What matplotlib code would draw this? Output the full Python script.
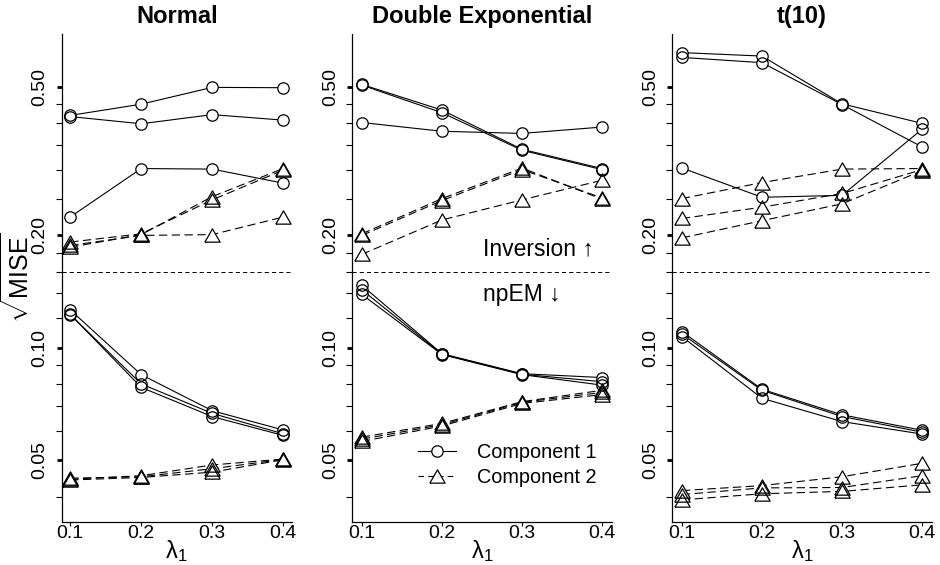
import matplotlib
matplotlib.use('Agg')
import matplotlib.pyplot as plt
from matplotlib.lines import Line2D
from matplotlib.ticker import FixedLocator, FixedFormatter, NullFormatter

plt.rcParams['font.family'] = ['Liberation Sans', 'DejaVu Sans']
plt.rcParams['mathtext.fontset'] = 'custom'
plt.rcParams['mathtext.rm'] = 'Liberation Sans'
plt.rcParams['mathtext.it'] = 'Liberation Sans:italic'
plt.rcParams['mathtext.bf'] = 'Liberation Sans:bold'
plt.rcParams['lines.scale_dashes'] = False

# ---------------- data ----------------
lam = [0.1, 0.2, 0.3, 0.4]
lam_ticks = ['0.1', '0.2', '0.3', '0.4']
panel_titles = ['Normal', 'Double Exponential', 't(10)']
y_major = [0.05, 0.10, 0.20, 0.50]
y_major_labels = ['0.05', '0.10', '0.20', '0.50']
y_minor = [0.04, 0.06, 0.07, 0.08, 0.09, 0.12, 0.14, 0.16, 0.18,
           0.25, 0.30, 0.35, 0.40, 0.45]
separator = 0.16
legend_labels = ['Component 1', 'Component 2']

# Normal
normal_inv_c1 = [[0.419, 0.449, 0.498, 0.497],
                 [0.416, 0.398, 0.421, 0.407],
                 [0.224, 0.302, 0.301, 0.276]]
normal_inv_c2 = [[0.186, 0.201, 0.254, 0.302],
                 [0.192, 0.202, 0.249, 0.299],
                 [0.188, 0.200, 0.201, 0.224]]
normal_np_c1 = [[0.1264, 0.0848, 0.0679, 0.0603],
                [0.1228, 0.0801, 0.0668, 0.0589],
                [0.1230, 0.0784, 0.0655, 0.0583]]
normal_np_c2 = [[0.0445, 0.0455, 0.0486, 0.0504],
                [0.0448, 0.0452, 0.0475, 0.0503],
                [0.0443, 0.0450, 0.0465, 0.0502]]

# Double exponential
de_inv_c1 = [[0.507, 0.433, 0.340, 0.302],
             [0.505, 0.426, 0.338, 0.300],
             [0.401, 0.380, 0.375, 0.390]]
de_inv_c2 = [[0.202, 0.251, 0.303, 0.250],
             [0.200, 0.248, 0.300, 0.252],
             [0.178, 0.220, 0.249, 0.281]]
de_np_c1 = [[0.147, 0.0965, 0.0853, 0.0833],
            [0.143, 0.0962, 0.0850, 0.0812],
            [0.139, 0.0960, 0.0848, 0.0795]]
de_np_c2 = [[0.0577, 0.0628, 0.0718, 0.0770],
            [0.0570, 0.0623, 0.0715, 0.0760],
            [0.0562, 0.0618, 0.0710, 0.0750]]

# t(10)
t_inv_c1 = [[0.617, 0.604, 0.450, 0.399],
            [0.599, 0.580, 0.448, 0.345],
            [0.303, 0.253, 0.256, 0.385]]
t_inv_c2 = [[0.251, 0.277, 0.301, 0.302],
            [0.222, 0.238, 0.259, 0.300],
            [0.197, 0.219, 0.243, 0.298]]
t_np_c1 = [[0.1106, 0.0775, 0.0662, 0.0602],
           [0.1090, 0.0770, 0.0655, 0.0595],
           [0.1072, 0.0733, 0.0635, 0.0588]]
t_np_c2 = [[0.0415, 0.0428, 0.0452, 0.0491],
           [0.0405, 0.0422, 0.0423, 0.0455],
           [0.0392, 0.0407, 0.0413, 0.0430]]

panel_data = [
    (normal_inv_c1 + normal_np_c1, normal_inv_c2 + normal_np_c2),
    (de_inv_c1 + de_np_c1, de_inv_c2 + de_np_c2),
    (t_inv_c1 + t_np_c1, t_inv_c2 + t_np_c2),
]

# ---------------- figure ----------------
W, H = 940, 565
fig = plt.figure(figsize=(W / 100, H / 100), dpi=100)

top_px, bot_px = 34, 522
panel_x = [(61.7, 291.7), (352.3, 611.7), (672.3, 931.7)]

tri = [(-1.0, -0.87), (1.0, -0.87), (0.0, 0.87), (-1.0, -0.87)]
circ_ms = 8.2
tri_ms = 11.0
lw = 0.8
dash = (0, (6, 3.2))


def draw_series(ax, vals, marker, ms, ls):
    ax.plot(lam, vals, color='black', lw=lw, linestyle=ls, zorder=2)
    ax.plot(lam, vals, linestyle='none', marker=marker, ms=ms,
            mfc='white', mec='white', mew=0.0, zorder=3)


def draw_outline(ax, vals, marker, ms):
    ax.plot(lam, vals, linestyle='none', marker=marker, ms=ms,
            mfc='none', mec='black', mew=0.9, zorder=4)


axes = []
for i, (x0, x1) in enumerate(panel_x):
    ax = fig.add_axes([x0 / W, 1 - bot_px / H, (x1 - x0) / W, (bot_px - top_px) / H])
    axes.append(ax)
    ax.set_yscale('log')
    ax.set_xlim(0.088, 0.412)
    ax.set_ylim(0.0342, 0.692)

    c1, c2 = panel_data[i]
    for v in c1:
        draw_series(ax, v, 'o', circ_ms, '-')
    for v in c2:
        draw_series(ax, v, tri, tri_ms, dash)
    for v in c1:
        draw_outline(ax, v, 'o', circ_ms)
    for v in c2:
        draw_outline(ax, v, tri, tri_ms)

    ax.axhline(separator, color='black', lw=0.7, linestyle=(0, (3, 2.2)), zorder=1)

    for s in ['top', 'right']:
        ax.spines[s].set_visible(False)
    for s in ['left', 'bottom']:
        ax.spines[s].set_linewidth(0.9)

    ax.yaxis.set_major_locator(FixedLocator(y_major))
    ax.yaxis.set_major_formatter(FixedFormatter(y_major_labels))
    ax.yaxis.set_minor_locator(FixedLocator(y_minor))
    ax.yaxis.set_minor_formatter(NullFormatter())
    ax.tick_params(axis='y', which='major', length=3.5, width=2.0, pad=6,
                   labelsize=14)
    ax.tick_params(axis='y', which='minor', length=4, width=0.8)
    for lab in ax.get_yticklabels():
        lab.set_rotation(90)
        lab.set_va('center')

    ax.set_xticks(lam)
    ax.set_xticklabels(lam_ticks)
    ax.tick_params(axis='x', which='major', length=3, width=0.8, pad=-1,
                   labelsize=14)

    ax.set_title(panel_titles[i], fontsize=17, fontweight='bold', pad=8)
    ax.set_xlabel(r'$\mathregular{\lambda_1}$', fontsize=17, labelpad=-3)

# annotations in middle panel
axes[1].text(0.251, 0.184, 'Inversion \u2191', fontsize=16.5, ha='left', va='center')
axes[1].text(0.251, 0.139, 'npEM \u2193', fontsize=16.5, ha='left', va='center')

handles = [
    Line2D([], [], color='black', lw=lw, marker='o', ms=circ_ms, mfc='white',
           mec='black', mew=0.9),
    Line2D([], [], color='black', lw=lw, linestyle=(0, (4, 3)), marker=tri,
           ms=tri_ms, mfc='white', mec='black', mew=0.9),
]
fig.legend(handles, legend_labels, loc='upper left',
           bbox_to_anchor=(418 / W, 1 - 443 / H), frameon=False, fontsize=14.3,
           handlelength=1.9, handletextpad=1.05, labelspacing=0.28,
           borderpad=0, borderaxespad=0)

fig.text(18 / W, 1 - 278 / H, r'$\sqrt{\mathrm{MISE}}$', rotation=90,
         fontsize=18, ha='center', va='center')

fig.savefig('out.png', dpi=100)
